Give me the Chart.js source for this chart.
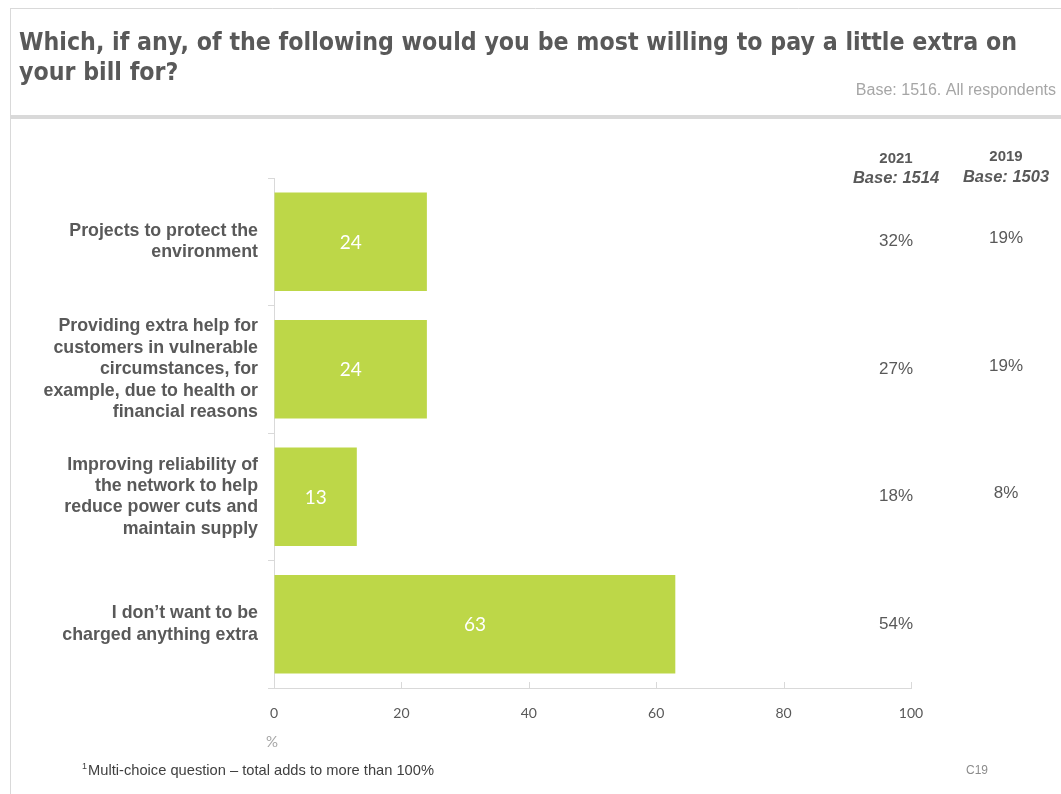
<!DOCTYPE html>
<html>
<head>
<meta charset="utf-8">
<script src="https://cdn.jsdelivr.net/npm/chart.js@4/dist/chart.umd.min.js"></script>
<style>
  html, body { margin: 0; padding: 0; background: #ffffff; }
  #wrap { width: 1061px; height: 794px; position: relative; }
</style>
</head>
<body>
<div id="wrap"><canvas id="c" width="1061" height="794"></canvas></div>
<script>
// Survey answers and shares shown as bars (percent)
const categories = [
  ["Projects to protect the", "environment"],
  ["Providing extra help for", "customers in vulnerable", "circumstances, for", "example, due to health or", "financial reasons"],
  ["Improving reliability of", "the network to help", "reduce power cuts and", "maintain supply"],
  ["I don\u2019t want to be", "charged anything extra"]
];
const shares = [24, 24, 13, 63];

// Comparison columns on the right
const columnHeads = ["2021", "2019"];
const columnBases = ["Base: 1514", "Base: 1503"];
const values2021 = ["32%", "27%", "18%", "54%"];
const values2019 = ["19%", "19%", "8%", ""];

// Axis ticks
const xTicks = [0, 20, 40, 60, 80, 100];

const titleLines = [
  "Which, if any, of the following would you be most willing to pay a little extra on",
  "your bill for?"
];
const baseNote = "Base: 1516. All respondents";
const footnote = "Multi-choice question \u2013 total adds to more than 100%";
const slideCode = "C19";

const GREY = "#595959";
const LIGHT = "#d9d9d9";

// draws text squeezed horizontally to a given width
function condensedText(ctx, text, x, y, width, align) {
  const w = ctx.measureText(text).width;
  const s = Math.min(1, width / w);
  ctx.save();
  ctx.translate(x, y);
  ctx.scale(s, 1);
  ctx.textAlign = align || "left";
  ctx.fillText(text, 0, 0);
  ctx.restore();
}

// Page frame, heading and notes
const framePlugin = {
  id: "frame",
  beforeDraw(chart) {
    const ctx = chart.ctx;
    ctx.save();
    ctx.fillStyle = "#ffffff";
    ctx.fillRect(0, 0, chart.width, chart.height);
    ctx.strokeStyle = LIGHT;
    ctx.lineWidth = 1;
    ctx.beginPath();
    ctx.moveTo(10.5, 8); ctx.lineTo(10.5, chart.height);
    ctx.moveTo(10, 8.5); ctx.lineTo(chart.width, 8.5);
    ctx.stroke();
    ctx.fillStyle = LIGHT;
    ctx.fillRect(10, 115, chart.width - 10, 4);

    // heading, horizontally condensed
    ctx.fillStyle = GREY;
    ctx.font = 'bold 24px "DejaVu Sans", sans-serif';
    ctx.textBaseline = "alphabetic";
    ctx.textAlign = "left";
    const w1 = ctx.measureText(titleLines[0]).width;
    const sx = 998 / w1;
    ctx.save();
    ctx.translate(19, 0);
    ctx.scale(sx, 1);
    ctx.fillText(titleLines[0], 0, 50);
    ctx.fillText(titleLines[1], 0, 80);
    ctx.restore();

    ctx.fillStyle = "#a6a6a6";
    ctx.font = '16px "Liberation Sans", sans-serif';
    ctx.textBaseline = "middle";
    condensedText(ctx, baseNote, 1056, 91, 204, "right");

    // footnote
    ctx.fillStyle = "#404040";
    ctx.font = '9px "Liberation Sans", sans-serif';
    ctx.fillText("1", 82, 767);
    ctx.font = '15px "Liberation Sans", sans-serif';
    condensedText(ctx, footnote, 88, 771, 346, "left");
    ctx.fillStyle = "#8c8c8c";
    ctx.font = '13px "Liberation Sans", sans-serif';
    condensedText(ctx, slideCode, 966, 770, 22, "left");
    ctx.restore();
  },
  afterDraw(chart) {
    const ctx = chart.ctx;
    const x = chart.scales.x, y = chart.scales.y;
    ctx.save();
    // inward tick marks on the value axis
    ctx.strokeStyle = LIGHT;
    ctx.lineWidth = 1;
    ctx.beginPath();
    xTicks.forEach(v => {
      const px = Math.round(x.getPixelForValue(v)) + 0.5;
      ctx.moveTo(px, x.top); ctx.lineTo(px, x.top - 6);
    });
    ctx.stroke();

    // unit under the axis
    ctx.fillStyle = "#a6a6a6";
    ctx.font = '15px Lato, sans-serif';
    ctx.textAlign = "center";
    ctx.textBaseline = "middle";
    ctx.fillText("%", x.left - 2, 742);

    // values inside bars
    ctx.fillStyle = "#ffffff";
    ctx.font = '19px Lato, sans-serif';
    chart.getDatasetMeta(0).data.forEach((bar, i) => {
      const cx = (bar.base + bar.x) / 2;
      ctx.fillText(String(shares[i]), cx, bar.y + 1);
    });

    // comparison columns
    const colX = [896, 1006];
    ctx.fillStyle = GREY;
    ctx.font = 'bold 15px "Liberation Sans", Arial, sans-serif';
    ctx.fillText(columnHeads[0], colX[0], 159);
    ctx.fillText(columnHeads[1], colX[1], 157);
    ctx.font = 'italic bold 16.5px "Liberation Sans", Arial, sans-serif';
    ctx.fillText(columnBases[0], colX[0], 178);
    ctx.fillText(columnBases[1], colX[1], 177);
    ctx.font = '17px "Liberation Sans", Arial, sans-serif';
    categories.forEach((c, i) => {
      const py = y.getPixelForValue(i);
      ctx.fillText(values2021[i], colX[0], py);
      if (values2019[i]) ctx.fillText(values2019[i], colX[1], py - 3);
    });
    ctx.restore();
  }
};

new Chart(document.getElementById("c"), {
  type: "bar",
  data: {
    labels: categories,
    datasets: [{
      data: shares,
      backgroundColor: "#bdd748",
      borderWidth: 0,
      barPercentage: 0.87,
      categoryPercentage: 0.89
    }]
  },
  options: {
    indexAxis: "y",
    responsive: false,
    animation: false,
    events: [],
    layout: { padding: { top: 178, right: 150, bottom: 0, left: 0 } },
    plugins: { legend: { display: false }, tooltip: { enabled: false } },
    scales: {
      x: {
        min: 0, max: 100,
        afterBuildTicks(scale) { scale.ticks = xTicks.map(v => ({ value: v })); },
        afterFit(scale) { scale.height = 106; },
        grid: { display: true, drawOnChartArea: false, drawTicks: false, color: LIGHT },
        border: { display: true, color: LIGHT, width: 1 },
        ticks: { color: GREY, padding: 17, font: { family: "Lato", size: 14 } }
      },
      y: {
        afterFit(scale) { scale.width = 274; },
        grid: { display: true, drawOnChartArea: false, drawTicks: true, tickLength: 6, color: LIGHT, offset: true },
        border: { display: true, color: LIGHT, width: 1 },
        ticks: {
          color: GREY, padding: 10,
          font: { family: '"Liberation Sans", Arial, sans-serif', size: 17.8, weight: "bold", lineHeight: 1.2 }
        }
      }
    }
  },
  plugins: [framePlugin]
});
</script>
</body>
</html>
